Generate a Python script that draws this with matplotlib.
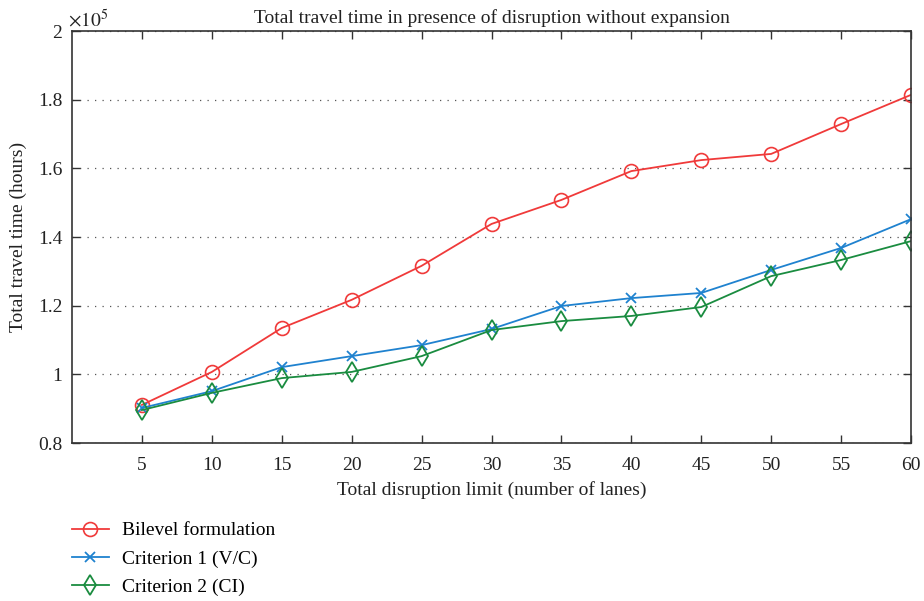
import matplotlib
matplotlib.use("Agg")
import matplotlib.pyplot as plt
from matplotlib.ticker import FuncFormatter

plt.rcParams['font.family'] = ['Liberation Serif', 'DejaVu Serif']
plt.rcParams['mathtext.fontset'] = 'stix'

# Data (total travel time, units of 1e5 hours)
limits = [5, 10, 15, 20, 25, 30, 35, 40, 45, 50, 55, 60]
bilevel = [0.911, 1.007, 1.135, 1.217, 1.316, 1.438, 1.508, 1.592, 1.624, 1.642, 1.729, 1.814]
crit1 = [0.902, 0.951, 1.021, 1.053, 1.085, 1.132, 1.199, 1.222, 1.237, 1.304, 1.368, 1.452]
crit2 = [0.896, 0.946, 0.989, 1.007, 1.053, 1.129, 1.155, 1.170, 1.196, 1.286, 1.333, 1.388]
series_names = ["Bilevel formulation", "Criterion 1 (V/C)", "Criterion 2 (CI)"]
y_ticks = [0.8, 1.0, 1.2, 1.4, 1.6, 1.8, 2.0]

FS = 14
TXT = '#222222'

fig = plt.figure(figsize=(9.24, 6.01), dpi=100)
ax = fig.add_axes([72 / 924, 1 - 443 / 601, (911 - 72) / 924, (443 - 31) / 601])

l1, = ax.plot(limits, bilevel, color='#f03a3a', lw=1.3, marker='o', ms=10,
              mfc='none', mew=1.2, label=series_names[0])
l2, = ax.plot(limits, crit1, color='#1f82cf', lw=1.3, marker='x', ms=7,
              mew=1.3, label=series_names[1])
l3, = ax.plot(limits, crit2, color='#1a8c40', lw=1.3, marker='d', ms=10,
              mfc='none', mew=1.3, label=series_names[2])

ax.set_xlim(0, 60)
ax.set_ylim(0.8, 2.0)
ax.set_xticks(limits)
ax.set_yticks(y_ticks)
ax.yaxis.set_major_formatter(FuncFormatter(lambda v, p: f"{v:g}"))
ax.tick_params(direction='in', top=True, right=True, labelsize=FS,
               length=6, width=1, colors='#333333', labelcolor=TXT)
ax.tick_params(axis='x', pad=10)
ax.tick_params(axis='y', pad=7)
ax.grid(axis='y', linestyle=(0, (1, 5)), color='#555555', lw=0.9)
for s in ax.spines.values():
    s.set_color('#333333')
    s.set_linewidth(1.2)

ax.set_title("Total travel time in presence of disruption without expansion",
             fontsize=FS, color=TXT, pad=6)
ax.set_xlabel("Total disruption limit (number of lanes)", fontsize=FS,
              color=TXT, labelpad=5)
ax.set_ylabel("Total travel time (hours)", fontsize=FS, color=TXT,
              labelpad=8)
ax.text(-0.005, 1.0, r"$\times10^5$", transform=ax.transAxes, fontsize=FS,
        color=TXT, ha='left', va='bottom')

fig.legend(handles=[l1, l2, l3], loc='upper left',
           bbox_to_anchor=(62 / 924, 1 - 512 / 601), frameon=False,
           fontsize=FS, handlelength=1.9, labelspacing=0.55,
           handletextpad=0.7, borderpad=0)

fig.savefig("out.png", dpi=100)
